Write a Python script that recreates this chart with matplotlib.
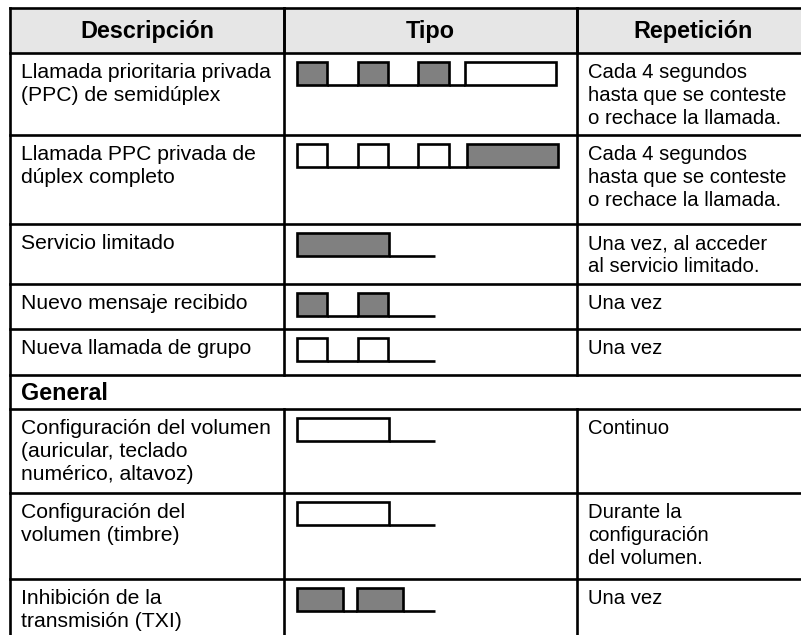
import matplotlib.pyplot as plt
from matplotlib.patches import Rectangle

# table content
headers = ['Descripción', 'Tipo', 'Repetición']
descriptions = [
    'Llamada prioritaria privada\n(PPC) de semidúplex',
    'Llamada PPC privada de\ndúplex completo',
    'Servicio limitado',
    'Nuevo mensaje recibido',
    'Nueva llamada de grupo',
    'Configuración del volumen\n(auricular, teclado\nnumérico, altavoz)',
    'Configuración del\nvolumen (timbre)',
    'Inhibición de la\ntransmisión (TXI)',
]
repetitions = [
    'Cada 4 segundos\nhasta que se conteste\no rechace la llamada.',
    'Cada 4 segundos\nhasta que se conteste\no rechace la llamada.',
    'Una vez, al acceder\nal servicio limitado.',
    'Una vez',
    'Una vez',
    'Continuo',
    'Durante la\nconfiguración\ndel volumen.',
    'Una vez',
]
# tone patterns: (kind, duration)  G = high tone (grey), W = low tone (white), - = silence
tones = [
    [('G', 1), ('-', 1), ('G', 1), ('-', 1), ('G', 1), ('-', 0.56), ('W', 3)],
    [('W', 1), ('-', 1), ('W', 1), ('-', 1), ('W', 1), ('-', 0.62), ('G', 3)],
    [('G', 3.05), ('-', 1.5)],
    [('G', 1), ('-', 1), ('G', 1), ('-', 1.55)],
    [('W', 1), ('-', 1), ('W', 1), ('-', 1.55)],
    [('W', 3.05), ('-', 1.5)],
    [('W', 3.05), ('-', 1.5)],
    [('G', 1.52), ('-', 0.46), ('G', 1.52), ('-', 1.05)],
]
section_title = 'General'
section_before = 5

# layout (pixels)
W, H = 801, 635
x_left, x_c1, x_c2, x_right = 10, 284, 577, 801
y_top, y_head = 8, 53
row_h = [82, 89, 60, 45, 46, 84, 86, 70]
section_h = 34
unit = 30.3
tone_x0 = 297
lw = 1.9
fs_desc = 15.2
fs_rep = 14.6
fs_bold = 16.8
font = 'Liberation Sans'

fig = plt.figure(figsize=(W / 100, H / 100), dpi=100)
ax = fig.add_axes([0, 0, 1, 1])
ax.set_xlim(0, W)
ax.set_ylim(H, 0)
ax.axis('off')

# header
ax.add_patch(Rectangle((x_left, y_top), x_right - x_left, y_head - y_top,
                       facecolor='#e6e6e6', edgecolor='none'))
centers = [(x_left + x_c1) / 2, (x_c1 + x_c2) / 2, (x_c2 + 810) / 2]
for cx, h in zip(centers, headers):
    ax.text(cx, (y_top + y_head) / 2 + 1, h, ha='center', va='center',
            fontsize=fs_bold, fontweight='bold', family=font)


def draw_lines(x, y0, text, size):
    for i, line in enumerate(text.split('\n')):
        ax.text(x, y0 + 25 + i * 23, line, ha='left', va='baseline',
                fontsize=size, family=font)


def draw_tone(y0, pattern):
    base = y0 + 32
    x = tone_x0
    for kind, dur in pattern:
        w = dur * unit
        if kind == '-':
            ax.plot([x, x + w], [base, base], color='black', lw=lw,
                    solid_capstyle='butt')
        else:
            fc = '#808080' if kind == 'G' else 'white'
            ax.add_patch(Rectangle((x, base - 23), w, 23, facecolor=fc,
                                   edgecolor='black', lw=lw, zorder=3))
        x += w


hlines = [y_top, y_head]
vsegs = [(y_top, y_head)]
y = y_head
seg_start = y_top
for i in range(len(descriptions)):
    if i == section_before:
        vsegs.append((seg_start, y))
        ax.text(x_left + 11, y + section_h / 2 + 1, section_title, ha='left',
                va='center', fontsize=fs_bold, fontweight='bold', family=font)
        y += section_h
        hlines.append(y)
        seg_start = y
    draw_lines(x_left + 11, y, descriptions[i], fs_desc)
    draw_lines(x_c2 + 11, y, repetitions[i], fs_rep)
    draw_tone(y, tones[i])
    y += row_h[i]
    if y < H:
        hlines.append(y)
vsegs.append((seg_start, H))

for yy in hlines:
    ax.plot([x_left, x_right], [yy, yy], color='black', lw=lw,
            solid_capstyle='projecting')
ax.plot([x_left, x_left], [y_top, H], color='black', lw=lw,
        solid_capstyle='projecting')
for a, b in vsegs:
    for xx in (x_c1, x_c2):
        ax.plot([xx, xx], [a, b], color='black', lw=lw)

fig.savefig('out.png', dpi=100)
